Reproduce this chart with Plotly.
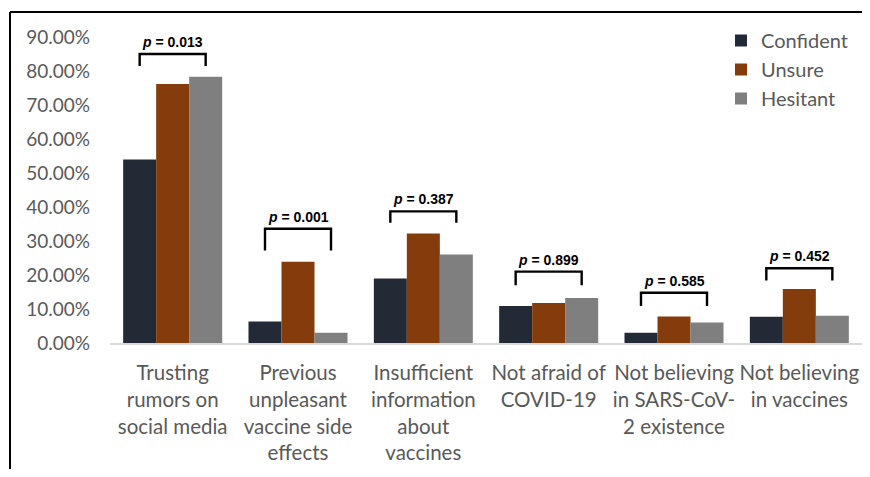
import plotly.graph_objects as go

categories = [
    "Trusting<br>rumors on<br>social media",
    "Previous<br>unpleasant<br>vaccine side<br>effects",
    "Insufficient<br>information<br>about<br>vaccines",
    "Not afraid of<br>COVID-19",
    "Not believing<br>in SARS-CoV-<br>2 existence",
    "Not believing<br>in vaccines",
]
confident = [0.540, 0.063, 0.190, 0.109, 0.030, 0.077]
unsure = [0.762, 0.239, 0.322, 0.118, 0.078, 0.159]
hesitant = [0.783, 0.030, 0.260, 0.132, 0.060, 0.080]
p_values = ["0.013", "0.001", "0.387", "0.899", "0.585", "0.452"]
bracket_top = [0.850, 0.336, 0.387, 0.210, 0.148, 0.220]
bracket_drop = [0.035, 0.064, 0.033, 0.040, 0.039, 0.036]
tick_vals = [0, 0.1, 0.2, 0.3, 0.4, 0.5, 0.6, 0.7, 0.8, 0.9]

colors = {"Confident": "#222A35", "Unsure": "#843C0C", "Hesitant": "#7F7F7F"}
# page has an 8px body margin; figure sized so no scrollbars appear
W, H = 854, 461
L, R, T, B = 102, 0, 29, 126
bargap = 0.21

fig = go.Figure()
for name, vals in [("Confident", confident), ("Unsure", unsure), ("Hesitant", hesitant)]:
    fig.add_trace(go.Bar(x=list(range(len(categories))), y=vals, name=name,
                         marker=dict(color=colors[name], line=dict(width=0))))

bar_w = (1 - bargap) / 3
shapes = []
annotations = []
for i, (p, top, drop) in enumerate(zip(p_values, bracket_top, bracket_drop)):
    x0 = i - bar_w
    x1 = i + bar_w
    shapes.append(dict(type="path", xref="x", yref="y",
                       path=f"M {x0},{top - drop} L {x0},{top} L {x1},{top} L {x1},{top - drop}",
                       line=dict(color="black", width=2.4)))
    annotations.append(dict(x=i, y=top, xref="x", yref="y", yanchor="bottom", yshift=2,
                            text=f"<b><i>p</i> = {p}</b>", showarrow=False,
                            font=dict(family="Liberation Sans, Arial", size=14, color="black")))

pw = W - L - R
ph = H - T - B
# outer frame (top and left edges)
ytop = 1 + (T - 4) / ph
xleft = (2 - L) / pw
shapes.append(dict(type="line", xref="paper", yref="paper",
                   x0=xleft, x1=(W - L) / pw, y0=ytop, y1=ytop,
                   line=dict(color="black", width=2)))
shapes.append(dict(type="line", xref="paper", yref="paper",
                   x0=xleft, x1=xleft, y0=ytop, y1=-(B + 5) / ph,
                   line=dict(color="black", width=2)))

fig.update_layout(
    width=W, height=H,
    margin=dict(l=L, r=R, t=T, b=B),
    paper_bgcolor="white", plot_bgcolor="white",
    barmode="group", bargap=bargap, bargroupgap=0,
    font=dict(family="Lato, Open Sans, sans-serif", size=20, color="#595959"),
    showlegend=True,
    legend=dict(x=(713 - L) / pw, y=1 + (T - 13) / ph, xanchor="left", yanchor="top",
                font=dict(size=20, color="#595959"), itemwidth=30, tracegroupgap=0,
                bgcolor="rgba(0,0,0,0)"),
    shapes=shapes,
    annotations=annotations,
    xaxis=dict(tickmode="array", tickvals=list(range(len(categories))), ticktext=categories,
               range=[-0.5, len(categories) - 0.5], showgrid=False, zeroline=False,
               showline=True, linecolor="#D9D9D9", linewidth=1.5, ticks="",
               ticklabelstandoff=11, tickfont=dict(size=20.5, color="#595959")),
    yaxis=dict(range=[0, 0.9], tickvals=tick_vals, tickformat=".2%", showgrid=False,
               zeroline=False, showline=False, ticks="", ticklabelstandoff=19,
               tickfont=dict(size=19, color="#595959")),
)

fig.write_html("out.html")
